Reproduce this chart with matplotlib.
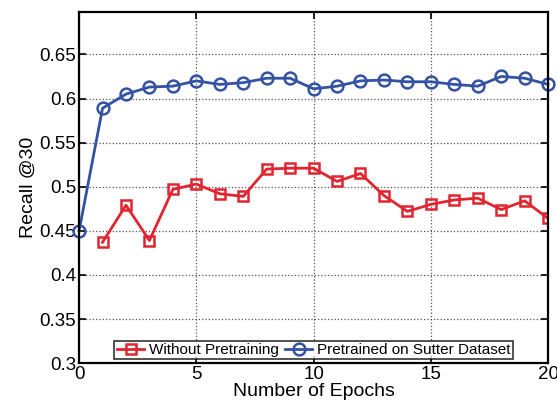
import matplotlib
matplotlib.use("Agg")
import matplotlib.pyplot as plt

plt.rcParams['font.family'] = ['Liberation Sans', 'DejaVu Sans']

# Recall@30 per epoch
epochs_red = list(range(1, 21))
without_pretraining = [0.437, 0.479, 0.439, 0.497, 0.503, 0.492, 0.489, 0.520, 0.521,
                       0.521, 0.506, 0.515, 0.490, 0.472, 0.480, 0.485, 0.487, 0.474,
                       0.484, 0.464]
epochs_blue = list(range(0, 21))
pretrained_sutter = [0.450, 0.589, 0.605, 0.613, 0.614, 0.620, 0.616, 0.618, 0.623, 0.623,
                     0.611, 0.614, 0.620, 0.621, 0.619, 0.619, 0.616, 0.614, 0.625,
                     0.623, 0.616]
xticks = [0, 5, 10, 15, 20]
yticks = [0.3, 0.35, 0.4, 0.45, 0.5, 0.55, 0.6, 0.65]

fig = plt.figure(figsize=(5.57, 4.03), dpi=100)
ax = fig.add_axes([0.142, 0.099, 0.842, 0.871])

red = '#e02530'
blue = '#3452a4'
ax.plot(epochs_red, without_pretraining, color=red, lw=2, marker='s', ms=6.5,
        mfc='none', mew=1.8, label='Without Pretraining')
ax.plot(epochs_blue, pretrained_sutter, color=blue, lw=2, marker='o', ms=8.5,
        mfc='none', mew=1.8, label='Pretrained on Sutter Dataset', clip_on=False)

ax.set_xlim(0, 20)
ax.set_ylim(0.3, 0.698)
ax.set_xticks(xticks)
ax.set_yticks(yticks)
ax.set_yticklabels(['0.3', '0.35', '0.4', '0.45', '0.5', '0.55', '0.6', '0.65'])
ax.tick_params(direction='in', top=True, right=True, labelsize=13.5, length=5, width=1.2, pad=2)
ax.grid(True, linestyle=':', color='#555555', lw=0.9)
for s in ax.spines.values():
    s.set_linewidth(1.6)

ax.set_xlabel('Number of Epochs', fontsize=14, labelpad=0)
ax.set_ylabel('Recall @30', fontsize=14, labelpad=2)

leg = ax.legend(loc='lower center', ncol=2, fontsize=11, frameon=True, fancybox=False,
                edgecolor='black', borderpad=0.15, handlelength=1.8, columnspacing=0.4,
                handletextpad=0.3, borderaxespad=0.25, bbox_to_anchor=(0.5, 0.0))
leg.get_frame().set_linewidth(1.2)

fig.savefig('out.png', dpi=100)
